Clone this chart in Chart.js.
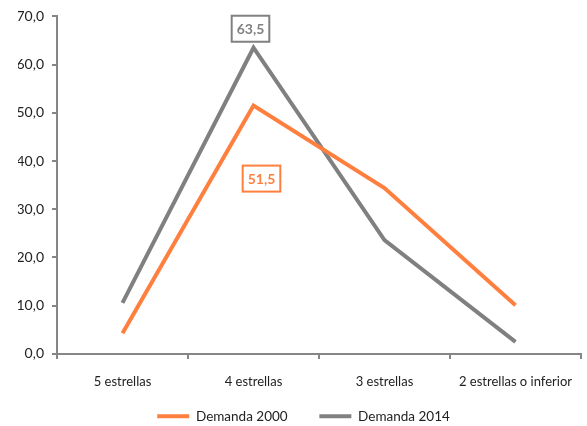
<!DOCTYPE html>
<html>
<head>
<meta charset="utf-8">
<script src="https://cdn.jsdelivr.net/npm/chart.js@4.4.0/dist/chart.umd.min.js"></script>
<style>
  html, body { margin: 0; padding: 0; background: #fff; }
  #box { width: 587px; height: 426px; }
</style>
</head>
<body>
<div id="box"><canvas id="grafico"></canvas></div>
<script>
// Dati
const categorie = ['5 estrellas', '4 estrellas', '3 estrellas', '2 estrellas o inferior'];
const demanda2000 = [4.3, 51.5, 34.4, 10.1];
const demanda2014 = [10.6, 63.5, 23.6, 2.5];
const etichetteY = ['0,0', '10,0', '20,0', '30,0', '40,0', '50,0', '60,0', '70,0'];

const arancio = '#FF7F3F';
const grigio = '#808080';
const assi = '#868686';
const font = 'Lato, "Open Sans", sans-serif';

// Etichette riquadrate sul punto di 4 estrellas
const etichettePlugin = {
    id: 'etichette',
    afterDatasetsDraw(chart) {
        const ctx = chart.ctx;
        const voci = [
            { ds: 1, idx: 1, testo: '63,5', col: grigio, dx: -3, dy: -19 },
            { ds: 0, idx: 1, testo: '51,5', col: arancio, dx: 8, dy: 73 }
        ];
        ctx.save();
        ctx.font = 'bold 14px ' + font;
        ctx.textAlign = 'center';
        ctx.textBaseline = 'middle';
        voci.forEach(v => {
            const p = chart.getDatasetMeta(v.ds).data[v.idx];
            const cx = p.x + v.dx, cy = p.y + v.dy;
            const w = ctx.measureText(v.testo).width + 10;
            const h = 26;
            ctx.fillStyle = '#fff';
            ctx.fillRect(cx - w / 2, cy - h / 2, w, h);
            ctx.strokeStyle = v.col;
            ctx.lineWidth = 2;
            ctx.strokeRect(cx - w / 2, cy - h / 2, w, h);
            ctx.fillStyle = v.col;
            ctx.fillText(v.testo, cx, cy + 1);
        });
        ctx.restore();
    }
};

new Chart(document.getElementById('grafico'), {
    type: 'line',
    data: {
        labels: categorie,
        datasets: [
            {
                label: 'Demanda 2000',
                data: demanda2000,
                borderColor: arancio,
                backgroundColor: arancio,
                borderWidth: 4,
                pointRadius: 0,
                tension: 0,
                fill: false
            },
            {
                label: 'Demanda 2014',
                data: demanda2014,
                borderColor: grigio,
                backgroundColor: grigio,
                borderWidth: 4,
                pointRadius: 0,
                tension: 0,
                fill: false
            }
        ]
    },
    options: {
        responsive: true,
        maintainAspectRatio: false,
        animation: false,
        layout: { padding: { top: 10, right: -2, left: 18, bottom: -7 } },
        scales: {
            x: {
                offset: true,
                afterFit(scale) { scale.height -= 3; },
                grid: {
                    offset: true,
                    drawOnChartArea: false,
                    color: assi,
                    lineWidth: 2,
                    tickLength: 5
                },
                border: { display: true, color: assi, width: 2 },
                ticks: {
                    color: '#222',
                    font: { family: font, size: 13 },
                    padding: 15,
                    maxRotation: 0
                }
            },
            y: {
                min: 0,
                max: 70,
                afterFit(scale) { scale.width = 39; },
                grid: {
                    drawOnChartArea: false,
                    color: assi,
                    lineWidth: 2,
                    tickLength: 5
                },
                border: { display: true, color: assi, width: 2 },
                ticks: {
                    stepSize: 10,
                    color: '#222',
                    font: { family: font, size: 14 },
                    padding: 8,
                    callback: (v, i) => etichetteY[i]
                }
            }
        },
        plugins: {
            tooltip: { enabled: false },
            legend: {
                display: true,
                position: 'bottom',
                labels: {
                    usePointStyle: true,
                    pointStyle: 'line',
                    pointStyleWidth: 32,
                    color: '#222',
                    font: { family: font, size: 13.5 },
                    padding: 8,
                    // spazio extra dopo la prima voce, come nell'originale
                    generateLabels(chart) {
                        const voci = Chart.defaults.plugins.legend.labels.generateLabels(chart);
                        voci[0].text = voci[0].text + '\u2003\u2003 ';
                        return voci;
                    }
                }
            }
        }
    },
    plugins: [etichettePlugin]
});
</script>
</body>
</html>
